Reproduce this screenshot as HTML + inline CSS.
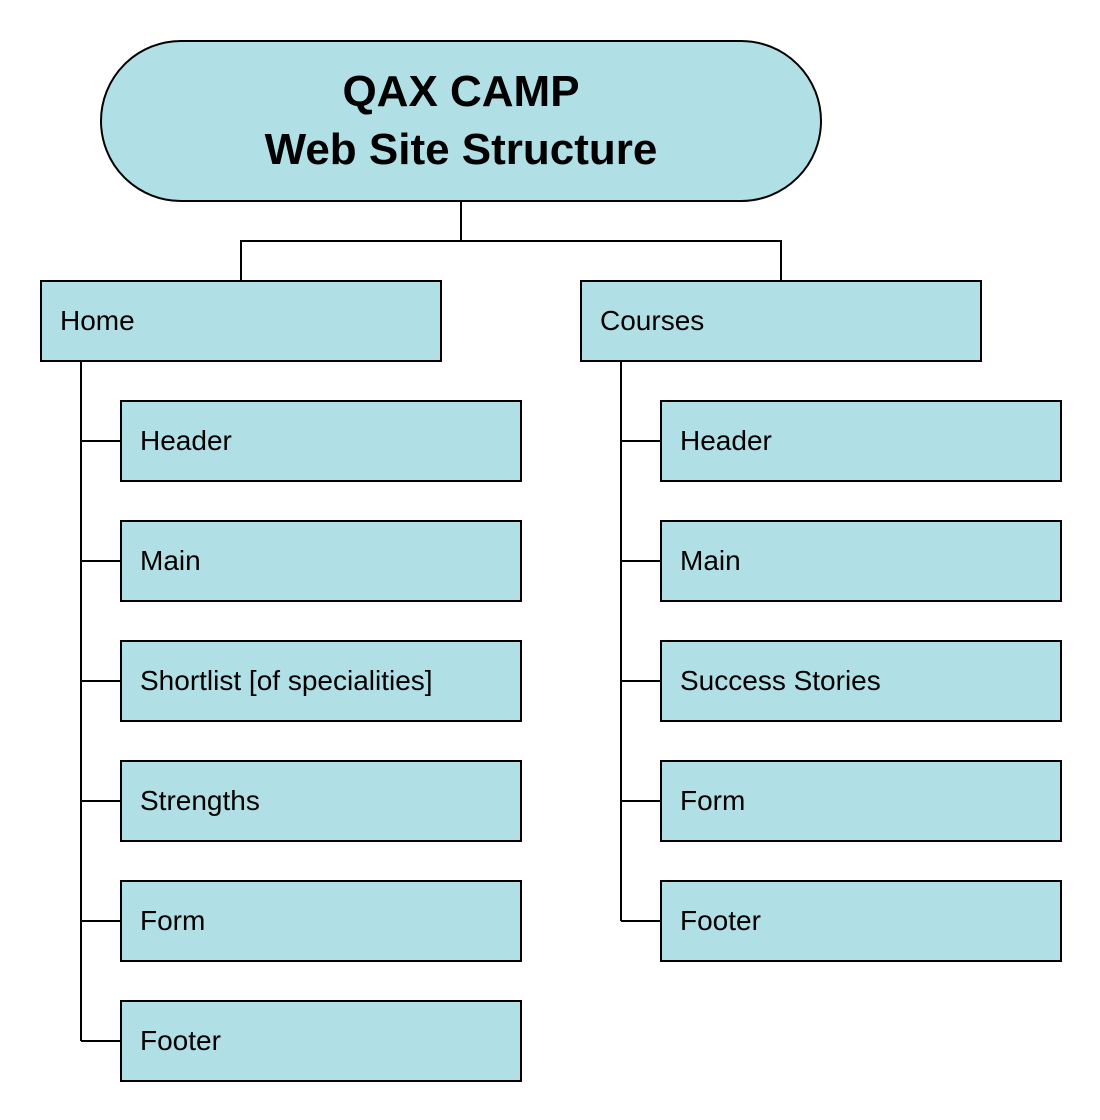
<!DOCTYPE html>
<html><head><style>body{margin:0;background:#fff}svg{display:block}</style></head>
<body>
<svg width="1100" height="1120" xmlns="http://www.w3.org/2000/svg" font-family="Liberation Sans, sans-serif">
<g fill="none" stroke="#000" stroke-width="2">
<path d="M461 201V241M241 281V241H781V281"/>
<path d="M81 361V1041M81 441H121M81 561H121M81 681H121M81 801H121M81 921H121M81 1041H121"/>
<path d="M621 361V921M621 441H661M621 561H661M621 681H661M621 801H661M621 921H661"/>
</g>
<g fill="#b0dfe5" stroke="#000" stroke-width="2">
<rect x="101" y="41" width="720" height="160" rx="80"/>
<rect x="41" y="281" width="400" height="80"/>
<rect x="581" y="281" width="400" height="80"/>
<rect x="121" y="401" width="400" height="80"/>
<rect x="121" y="521" width="400" height="80"/>
<rect x="121" y="641" width="400" height="80"/>
<rect x="121" y="761" width="400" height="80"/>
<rect x="121" y="881" width="400" height="80"/>
<rect x="121" y="1001" width="400" height="80"/>
<rect x="661" y="401" width="400" height="80"/>
<rect x="661" y="521" width="400" height="80"/>
<rect x="661" y="641" width="400" height="80"/>
<rect x="661" y="761" width="400" height="80"/>
<rect x="661" y="881" width="400" height="80"/>
</g>
<g font-weight="bold" font-size="44" text-anchor="middle">
<text x="461" y="106">QAX CAMP</text>
<text x="461" y="164">Web Site Structure</text>
</g>
<g font-size="28">
<text x="60" y="330">Home</text>
<text x="600" y="330">Courses</text>
<text x="140" y="450">Header</text>
<text x="140" y="570">Main</text>
<text x="140" y="690">Shortlist [of specialities]</text>
<text x="140" y="810">Strengths</text>
<text x="140" y="930">Form</text>
<text x="140" y="1050">Footer</text>
<text x="680" y="450">Header</text>
<text x="680" y="570">Main</text>
<text x="680" y="690">Success Stories</text>
<text x="680" y="810">Form</text>
<text x="680" y="930">Footer</text>
</g>
</svg>
</body></html>
